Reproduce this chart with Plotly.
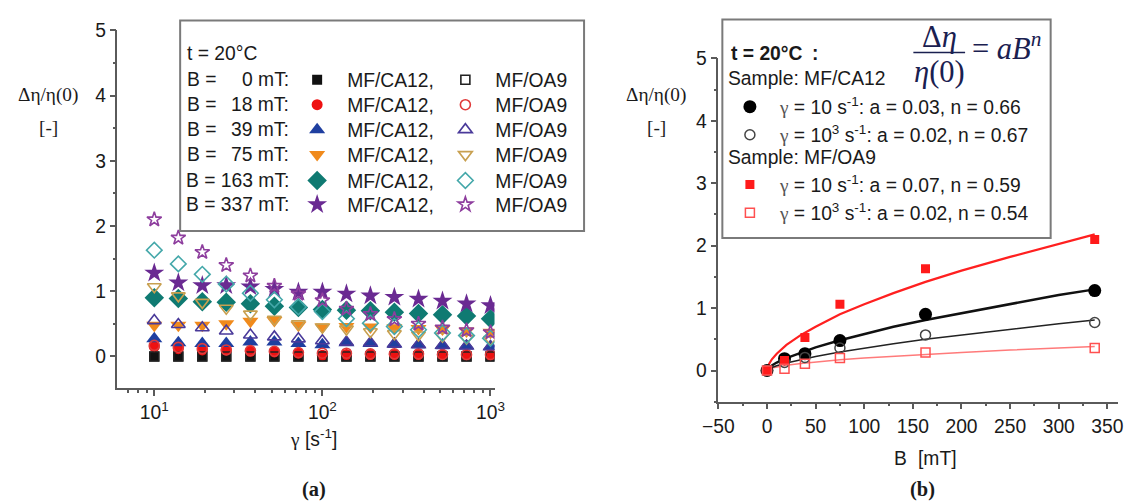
import plotly.graph_objects as go

W, H = 1128, 502
# The photographed page comes out slightly shrunk/offset; map target picture pixels -> layout pixels.
S, AXOFF, AYOFF = 0.982, 11.0, 9.5
def X(t): return (t - AXOFF) / S
def Y(t): return (t - AYOFF) / S
def fx(t): return min(max(X(t) / W, 0), 1)
def fy(t): return min(max(1 - Y(t) / H, 0), 1)

# ---------------- data: panel (a) ----------------
shear_rate = [10, 13.9, 19.3, 26.8, 37.3, 51.8, 72, 100, 139, 193, 268, 373, 518, 720, 1000]
field_mT = ["0", "18", "39", "75", "163", "337"]

ca12_0mT = [0] * 15
ca12_18mT = [0.15, 0.12, 0.10, 0.10, 0.08, 0.07, 0.05, 0.02, 0.03, 0.03, 0.03, 0.03, 0.03, 0.02, 0.02]
ca12_39mT = [0.27, 0.21, 0.20, 0.20, 0.22, 0.22, 0.20, 0.18, 0.21, 0.20, 0.19, 0.18, 0.17, 0.16, 0.15]
ca12_75mT = [0.48, 0.48, 0.48, 0.50, 0.54, 0.55, 0.48, 0.45, 0.46, 0.45, 0.44, 0.43, 0.42, 0.39, 0.37]
ca12_163mT = [0.90, 0.89, 0.84, 0.83, 0.81, 0.77, 0.75, 0.72, 0.71, 0.70, 0.68, 0.66, 0.64, 0.62, 0.58]
ca12_337mT = [1.28, 1.13, 1.09, 1.09, 1.07, 1.03, 0.99, 0.99, 0.96, 0.93, 0.91, 0.88, 0.85, 0.81, 0.78]

oa9_0mT = [0] * 15
oa9_18mT = [0.17, 0.14, 0.12, 0.10, 0.09, 0.08, 0.06, 0.05, 0.05, 0.04, 0.04, 0.04, 0.03, 0.03, 0.03]
oa9_39mT = [0.55, 0.49, 0.44, 0.39, 0.33, 0.30, 0.27, 0.24, 0.22, 0.21, 0.19, 0.18, 0.17, 0.16, 0.15]
oa9_75mT = [1.07, 0.93, 0.83, 0.74, 0.65, 0.57, 0.50, 0.45, 0.42, 0.38, 0.35, 0.33, 0.31, 0.28, 0.26]
oa9_163mT = [1.63, 1.42, 1.26, 1.11, 0.97, 0.87, 0.76, 0.69, 0.58, 0.51, 0.46, 0.41, 0.36, 0.32, 0.28]
oa9_337mT = [2.10, 1.82, 1.60, 1.40, 1.24, 1.08, 0.96, 0.86, 0.73, 0.65, 0.57, 0.50, 0.44, 0.40, 0.37]

x_tick_vals = [10, 100, 1000]
x_tick_text = ["10<sup>1</sup>", "10<sup>2</sup>", "10<sup>3</sup>"]

# ---------------- data: panel (b) ----------------
field_B = [0, 18, 39, 75, 163, 337]
ca12_rate10 = [0, 0.19, 0.27, 0.48, 0.90, 1.28]
ca12_rate1000 = [0, 0.13, 0.21, 0.36, 0.57, 0.77]
oa9_rate10 = [0, 0.16, 0.53, 1.06, 1.63, 2.10]
oa9_rate1000 = [0, 0.03, 0.11, 0.20, 0.29, 0.36]

fit_B = [0, 2, 5, 10, 20, 35, 50, 75, 100, 130, 163, 200, 250, 300, 337]
fit_oa9_rate10 = [0, 0.10, 0.18, 0.27, 0.41, 0.57, 0.70, 0.90, 1.06, 1.24, 1.42, 1.60, 1.82, 2.03, 2.18]
fit_ca12_rate10 = [0, 0.044, 0.081, 0.128, 0.20, 0.29, 0.37, 0.485, 0.58, 0.70, 0.81, 0.92, 1.07, 1.21, 1.30]
fit_ca12_rate1000 = [0, 0.026, 0.048, 0.077, 0.122, 0.178, 0.226, 0.296, 0.36, 0.43, 0.50, 0.57, 0.66, 0.75, 0.81]
fit_oa9_rate1000 = [0, 0.024, 0.040, 0.058, 0.084, 0.113, 0.137, 0.171, 0.20, 0.23, 0.26, 0.29, 0.327, 0.36, 0.385]

# ---------------- styles ----------------
SANS = "Liberation Sans"
SERIF = "Liberation Serif"
TXT = "#1a1a1a"
AX = "#5a5a5a"
FS = 19.3

filled_series = [ca12_0mT, ca12_18mT, ca12_39mT, ca12_75mT, ca12_163mT, ca12_337mT]
open_series = [oa9_0mT, oa9_18mT, oa9_39mT, oa9_75mT, oa9_163mT, oa9_337mT]
filled_colors = ["#111111", "#ee1111", "#1f3fa0", "#f08a1c", "#0f7a72", "#6a2a92"]
open_colors = ["#222222", "#e03a3a", "#4a3a9a", "#c8a050", "#45a8aa", "#8e3e9e"]
filled_symbols = ["square", "circle", "triangle-up", "triangle-down", "diamond", "star"]
open_symbols = ["square-open", "circle-open", "triangle-up-open", "triangle-down-open", "diamond-open", "star-open"]
filled_sizes = [10, 11, 14, 14, 15, 15]
open_sizes = [9, 10, 12, 12, 12, 11]

leg_ids = ["legend"] + ["legend%d" % k for k in range(2, 15)]

fig = go.Figure()

for i in range(6):
    fig.add_trace(go.Scatter(
        x=shear_rate, y=filled_series[i], mode="markers", xaxis="x", yaxis="y",
        marker=dict(symbol=filled_symbols[i], size=filled_sizes[i], color=filled_colors[i],
                    line=dict(width=0)),
        name="MF/CA12,", legend=leg_ids[i]))
for i in range(6):
    fig.add_trace(go.Scatter(
        x=shear_rate, y=open_series[i], mode="markers", xaxis="x", yaxis="y",
        marker=dict(symbol=open_symbols[i], size=open_sizes[i], color=open_colors[i],
                    line=dict(width=1.6, color=open_colors[i])),
        name="MF/OA9", legend=leg_ids[6 + i]))

# panel (b) fit lines
fits = [(fit_oa9_rate1000, "#ff7a7a", 1.5), (fit_ca12_rate1000, "#222222", 1.5),
        (fit_ca12_rate10, "#111111", 2.5), (fit_oa9_rate10, "#ff2020", 2.2)]
for ys, c, w in fits:
    fig.add_trace(go.Scatter(x=fit_B, y=ys, mode="lines", xaxis="x2", yaxis="y2",
                             line=dict(color=c, width=w), showlegend=False, hoverinfo="skip"))

gam = '<span style="font-family:Liberation Serif;color:#555">\u03b3</span>'
def rname(rate, a, n):
    return gam + ' = ' + rate + ' s<sup>-1</sup>: a = ' + a + ', n = ' + n

fig.add_trace(go.Scatter(x=field_B, y=ca12_rate10, mode="markers", xaxis="x2", yaxis="y2",
                         marker=dict(symbol="circle", size=13, color="#000000"),
                         name=rname("10", "0.03", "0.66"), legend=leg_ids[12]))
fig.add_trace(go.Scatter(x=field_B, y=ca12_rate1000, mode="markers", xaxis="x2", yaxis="y2",
                         marker=dict(symbol="circle-open", size=10, color="#444444", line=dict(width=1.5, color="#444444")),
                         name=rname("10<sup>3</sup>", "0.02", "0.67"), legend=leg_ids[12]))
fig.add_trace(go.Scatter(x=field_B, y=oa9_rate10, mode="markers", xaxis="x2", yaxis="y2",
                         marker=dict(symbol="square", size=9, color="#ff1a1a"),
                         name=rname("10", "0.07", "0.59"), legend=leg_ids[13]))
fig.add_trace(go.Scatter(x=field_B, y=oa9_rate1000, mode="markers", xaxis="x2", yaxis="y2",
                         marker=dict(symbol="square-open", size=9, color="#ff5050", line=dict(width=1.5, color="#ff5050")),
                         name=rname("10<sup>3</sup>", "0.02", "0.54"), legend=leg_ids[13]))

axis_common = dict(showline=True, linecolor=AX, linewidth=1.5, showgrid=False, zeroline=False,
                   ticks="outside", ticklen=6, tickwidth=1.5, tickcolor=AX,
                   tickfont=dict(family=SANS, size=FS, color=TXT))

ITEMW = 50                                  # symbol centre at 30 px, text at 60 px
leg_common = dict(bgcolor="rgba(0,0,0,0)", borderwidth=0, xanchor="left", yanchor="top",
                  tracegroupgap=0, itemwidth=ITEMW, font=dict(family=SANS, size=FS, color=TXT))
ITEM_OFF = 5 + (FS * 1.3 + 3) / 2           # legend top -> first item centre (layout px)
SYM_OFF = (ITEMW + 10) / 2

# right x-axis: -50 at 717 px, 350 at 1108 px in the target picture
bx_px_per_unit = (1108 - 717) / 400.0
right_end_target = AXOFF + S * W
right_x_max = -50 + (right_end_target - 717) / bx_px_per_unit

fig.update_layout(
    width=W, height=H, margin=dict(l=0, r=0, t=0, b=0),
    paper_bgcolor="white", plot_bgcolor="white", showlegend=True,
    xaxis=dict(domain=[fx(113), fx(492)], type="log", range=[0.781, 3.024], anchor="y",
               tickvals=x_tick_vals, ticktext=x_tick_text,
               minor=dict(ticks="outside", ticklen=3, tickcolor=AX, dtick="D1", showgrid=False),
               **axis_common),
    yaxis=dict(domain=[fy(388), fy(30)], range=[-0.48, 5], dtick=1, anchor="x",
               minor=dict(ticks="outside", ticklen=3, tickcolor=AX, dtick=0.5, showgrid=False),
               **axis_common),
    xaxis2=dict(domain=[fx(717), 1.0], range=[-50, right_x_max], dtick=50, anchor="y2",
                minor=dict(ticks="outside", ticklen=3, tickcolor=AX, dtick=25, showgrid=False),
                **axis_common),
    yaxis2=dict(domain=[fy(402), fy(58)], range=[-0.5, 5], dtick=1, anchor="x2",
                minor=dict(ticks="outside", ticklen=3, tickcolor=AX, dtick=0.5, showgrid=False),
                **axis_common),
)

row_y = [79, 104, 129, 154, 180, 204]
legs = {}
for i, yy in enumerate(row_y):
    top = 1 - (Y(yy) - ITEM_OFF) / H
    legs[leg_ids[i]] = dict(x=(X(313) - SYM_OFF) / W, y=top, **leg_common)
    legs[leg_ids[6 + i]] = dict(x=(X(462) - SYM_OFF) / W, y=top, **leg_common)
legs[leg_ids[12]] = dict(x=(X(748) - SYM_OFF) / W, y=1 - (Y(106) - ITEM_OFF) / H, **leg_common)
legs[leg_ids[13]] = dict(x=(X(748) - SYM_OFF) / W, y=1 - (Y(184) - ITEM_OFF) / H, **leg_common)
fig.update_layout(**legs)

shapes = [
    dict(type="rect", xref="paper", yref="paper", x0=fx(176), x1=fx(582), y0=fy(231), y1=fy(20),
         line=dict(color="#7a7a7a", width=2), fillcolor="rgba(0,0,0,0)", layer="above"),
    dict(type="rect", xref="paper", yref="paper", x0=fx(721), x1=fx(1051), y0=fy(238), y1=fy(19),
         line=dict(color="#7a7a7a", width=2), fillcolor="rgba(0,0,0,0)", layer="above"),
    dict(type="line", xref="paper", yref="paper", x0=fx(913), x1=fx(965), y0=fy(52), y1=fy(52),
         line=dict(color="#1a2050", width=1.5)),
]
fig.update_layout(shapes=shapes)

ann = []
def text(x, y, s, size=FS, family=SANS, xanchor="left", color=TXT):
    ann.append(dict(x=fx(x), y=fy(y), xref="paper", yref="paper", text=s, showarrow=False,
                    xanchor=xanchor, yanchor="middle", font=dict(family=family, size=size, color=color)))

# left legend texts
text(181, 53, "t = 20\u00b0C")
for b, yy in zip(field_mT, row_y):
    if len(b) < 3:
        text(181, yy, "B =")
        text(287, yy, b + " mT:", xanchor="right")
    else:
        text(287, yy, "B = " + b + " mT:", xanchor="right")

# right legend texts
text(728, 53, "<b>t = 20\u00b0C</b>")
text(809, 53, "<b>:</b>")
text(725, 78, "Sample: MF/CA12")
text(725, 157, "Sample: MF/OA9")
NAVY = "#1a2050"
text(939, 37, "\u0394<i>\u03b7</i>", size=30.5, family=SERIF, xanchor="center", color=NAVY)
text(939, 72, "<i>\u03b7</i>(0)", size=30.5, family=SERIF, xanchor="center", color=NAVY)
text(970, 46, "= <i>aB<sup>n</sup></i>", size=30.5, family=SERIF, color=NAVY)

# axis titles
for cx in (43, 654):
    text(cx, 95, "\u0394\u03b7/\u03b7(0)", family=SERIF, xanchor="center")
    text(cx + 1, 127, "[-]", family=SERIF, xanchor="center")
text(310, 438, '<span style="font-family:Liberation Serif">\u03b3</span> [s<sup>-1</sup>]', xanchor="center")
text(892, 459, "B")
text(916, 459, "[mT]")
text(311, 490, "<b>(a)</b>", size=20.4, family=SERIF, xanchor="center")
text(922, 490, "<b>(b)</b>", size=20.4, family=SERIF, xanchor="center")

fig.update_layout(annotations=ann)
fig.write_html("out.html")
